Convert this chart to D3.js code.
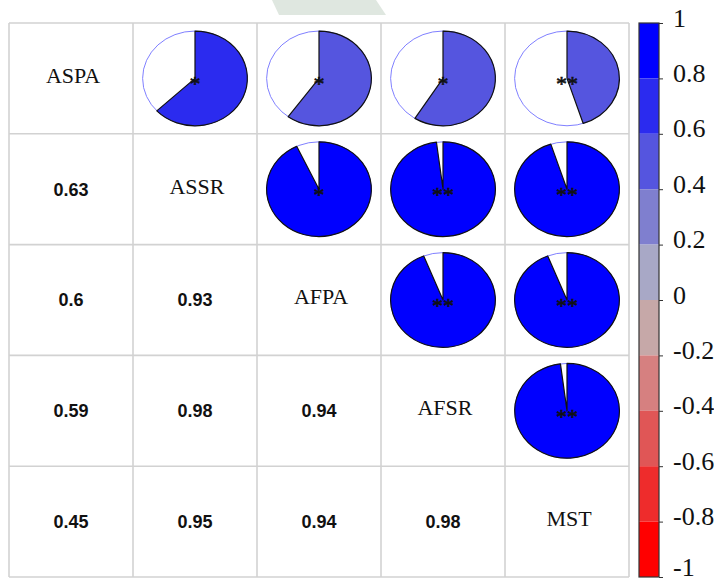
<!DOCTYPE html>
<html>
<head>
<meta charset="utf-8">
<script src="https://cdn.jsdelivr.net/npm/d3@7"></script>
<style>
  html, body { margin: 0; padding: 0; background: #fff; }
  svg { display: block; }
</style>
</head>
<body>
<svg id="chart" width="714" height="581"></svg>
<script>
// ---- data ----
const variables = ["ASPA", "ASSR", "AFPA", "AFSR", "MST"];
// correlation values, lower triangle rows (row i, col j < i)
const corrASSR = [0.63];
const corrAFPA = [0.60, 0.93];
const corrAFSR = [0.59, 0.98, 0.94];
const corrMST  = [0.45, 0.95, 0.94, 0.98];
// colour bins used for the fill of each pie (bin lower edge of 0.2 step)
const pieBinASSR = [0.6];
const pieBinAFPA = [0.4, 0.8];
const pieBinAFSR = [0.4, 0.8, 0.8];
const pieBinMST  = [0.4, 0.8, 0.8, 0.8];
// significance stars
const sigASSR = ["*"];
const sigAFPA = ["*", "*"];
const sigAFSR = ["*", "**", "**"];
const sigMST  = ["**", "**", "**", "**"];
// colour legend
const legendTicks = [1, 0.8, 0.6, 0.4, 0.2, 0, -0.2, -0.4, -0.6, -0.8, -1];
const legendTickLabels = ["1", "0.8", "0.6", "0.4", "0.2", "0", "-0.2", "-0.4", "-0.6", "-0.8", "-1"];
const legendBinStarts = [0.8, 0.6, 0.4, 0.2, 0, -0.2, -0.4, -0.6, -0.8, -1];
const legendBinColors = ["#0000ff", "#2b2bef", "#5555df", "#7f7fcf", "#a8a8c6",
                         "#c6a8a8", "#d68080", "#e05656", "#ee2c2c", "#ff0000"];

const corrRows = [[], corrASSR, corrAFPA, corrAFSR, corrMST];
const binRows  = [[], pieBinASSR, pieBinAFPA, pieBinAFSR, pieBinMST];
const sigRows  = [[], sigASSR, sigAFPA, sigAFSR, sigMST];

// ---- layout ----
const svg = d3.select("#chart");
const grid = { left: 9, right: 629, top: 23, bottom: 577 };

const x = d3.scaleBand().domain(variables).range([grid.left, grid.right]);
const y = d3.scaleBand().domain(variables).range([grid.top, grid.bottom]);
const binColor = d3.scaleOrdinal().domain(legendBinStarts).range(legendBinColors);

// watermark fragment at top
svg.append("path")
  .attr("d", "M272,0 L376,0 L386,15 L279,15 Z")
  .attr("fill", "#dfe7e0");

// cell build
const cells = [];
variables.forEach((vr, i) => {
  variables.forEach((vc, j) => {
    let r = null, bin = null, sig = null;
    if (i > j) { r = corrRows[i][j]; }
    if (j > i) { r = corrRows[j][i]; bin = binRows[j][i]; sig = sigRows[j][i]; }
    cells.push({ row: vr, col: vc, i, j, r, bin, sig });
  });
});

// grid lines
const gridG = svg.append("g");
gridG.selectAll("line.v")
  .data(variables.concat(["__end"]))
  .join("line")
  .attr("x1", (d, k) => grid.left + k * x.bandwidth())
  .attr("x2", (d, k) => grid.left + k * x.bandwidth())
  .attr("y1", grid.top).attr("y2", grid.bottom)
  .attr("stroke", "#d2d2d2").attr("stroke-width", 1.6);
gridG.selectAll("line.h")
  .data(variables.concat(["__end"]))
  .join("line")
  .attr("y1", (d, k) => grid.top + k * y.bandwidth())
  .attr("y2", (d, k) => grid.top + k * y.bandwidth())
  .attr("x1", grid.left).attr("x2", grid.right)
  .attr("stroke", "#d2d2d2").attr("stroke-width", 1.6);

// pies (upper triangle)
const rx = x.bandwidth() / 2 * 0.845;
const ry = y.bandwidth() / 2 * 0.855;
const unitArc = d3.arc().innerRadius(0).outerRadius(1);

const pies = svg.append("g").selectAll("g")
  .data(cells.filter(c => c.j > c.i))
  .join("g")
  .attr("transform", d => `translate(${x(d.col) + x.bandwidth() / 2},${y(d.row) + y.bandwidth() / 2})`);

pies.append("ellipse")
  .attr("rx", rx).attr("ry", ry)
  .attr("fill", "#fff")
  .attr("stroke", "#8080ff").attr("stroke-width", 1);

pies.append("path")
  .attr("transform", `scale(${rx},${ry})`)
  .attr("d", d => unitArc({ startAngle: 0, endAngle: 2 * Math.PI * d.r }))
  .attr("fill", d => binColor(d.bin))
  .attr("stroke", "#111").attr("stroke-width", 1.2)
  .attr("vector-effect", "non-scaling-stroke")
  .attr("stroke-linejoin", "round");

pies.append("text")
  .attr("text-anchor", "middle")
  .attr("y", 13)
  .attr("font-family", "'Liberation Serif', 'Times New Roman', serif")
  .attr("font-size", 22)
  .attr("fill", "#111")
  .attr("stroke", "#111").attr("stroke-width", 0.6)
  .text(d => d.sig);

// numbers (lower triangle)
svg.append("g").selectAll("text")
  .data(cells.filter(c => c.i > c.j))
  .join("text")
  .attr("x", d => x(d.col) + x.bandwidth() / 2)
  .attr("y", d => y(d.row) + y.bandwidth() / 2)
  .attr("dy", "0.36em")
  .attr("text-anchor", "middle")
  .attr("font-family", "'Liberation Sans', Arial, sans-serif")
  .attr("font-weight", "bold")
  .attr("font-size", 18)
  .attr("fill", "#111")
  .text(d => String(d.r));

// diagonal names
svg.append("g").selectAll("text")
  .data(cells.filter(c => c.i === c.j))
  .join("text")
  .attr("x", d => x(d.col) + x.bandwidth() / 2 + 2)
  .attr("y", d => y(d.row) + y.bandwidth() / 2)
  .attr("dy", "0.2em")
  .attr("text-anchor", "middle")
  .attr("font-family", "'Liberation Serif', 'Times New Roman', serif")
  .attr("font-size", 22)
  .attr("fill", "#111")
  .text(d => d.row);

// colour legend
const leg = { x: 639, w: 20 };
const ly = d3.scaleLinear().domain([-1, 1]).range([grid.bottom, grid.top]);
const legG = svg.append("g");
legG.selectAll("rect")
  .data(legendBinStarts)
  .join("rect")
  .attr("x", leg.x)
  .attr("y", d => ly(d + 0.2))
  .attr("width", leg.w)
  .attr("height", d => ly(d) - ly(d + 0.2))
  .attr("fill", d => binColor(d));
legG.append("rect")
  .attr("x", leg.x).attr("y", grid.top)
  .attr("width", leg.w).attr("height", grid.bottom - grid.top)
  .attr("fill", "none").attr("stroke", "#333").attr("stroke-width", 1.2);

const legAxis = d3.axisRight(ly)
  .tickValues(legendTicks)
  .tickFormat((d, k) => legendTickLabels[k])
  .tickSize(4).tickPadding(10);
const axG = legG.append("g")
  .attr("transform", `translate(${leg.x + leg.w},0)`)
  .call(legAxis);
axG.select(".domain").remove();
axG.selectAll(".tick line").attr("stroke", "#333");
axG.selectAll(".tick text")
  .attr("font-family", "'Liberation Serif', 'Times New Roman', serif")
  .attr("font-size", 26)
  .attr("fill", "#111")
  .attr("dy", d => d === -1 ? "-0.05em" : "0.12em");
</script>
</body>
</html>
